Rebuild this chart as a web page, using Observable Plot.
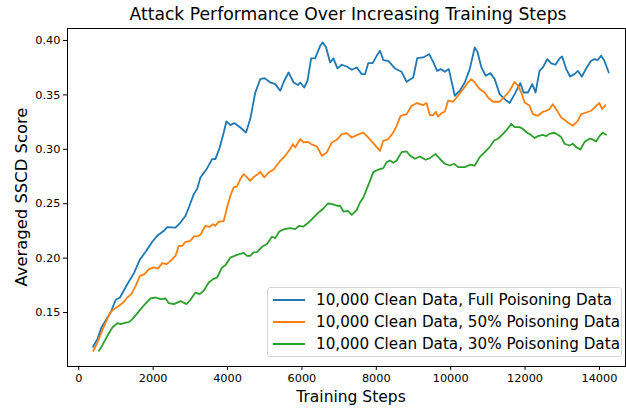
<!DOCTYPE html>
<html>
<head>
<meta charset="utf-8">
<script src="https://cdn.jsdelivr.net/npm/d3@7"></script>
<script src="https://cdn.jsdelivr.net/npm/@observablehq/plot@0.6"></script>
<style>
  body { margin: 0; background: #fff; font-family: "DejaVu Sans", sans-serif; }
  #wrap { position: relative; width: 626px; height: 410px; overflow: hidden; }
  #title { position: absolute; left: 0; width: 696px; top: 4px; text-align: center; font-size: 17.2px; color: #000; white-space: nowrap; }
  #chart { position: absolute; left: 0; top: 28px; }
  #ylab { position: absolute; left: 21px; top: 197px; transform: translate(-50%, -50%) rotate(-90deg); font-size: 16.4px; white-space: nowrap; color: #000; }
  #xlab { position: absolute; left: 351px; top: 397px; transform: translate(-50%, -50%); font-size: 15.5px; white-space: nowrap; color: #000; }
  #legend { position: absolute; left: 267px; top: 287px; width: 355px; height: 70px; border: 1px solid #d4d4d4; border-radius: 3px; background: rgba(255,255,255,0.85); box-sizing: border-box; }
  .row { position: absolute; left: 0; height: 20px; width: 100%; }
  .sw { position: absolute; left: 5px; top: 9px; width: 32px; height: 2px; }
  .lt { position: absolute; left: 48px; top: 0; font-size: 15.2px; line-height: 20px; white-space: nowrap; color: #000; }
</style>
</head>
<body>
<div id="wrap">
  <div id="title"></div>
  <div id="chart"></div>
  <div id="ylab"></div>
  <div id="xlab"></div>
  <div id="legend"></div>
</div>
<script>
const titleText = "Attack Performance Over Increasing Training Steps";
const xLabel = "Training Steps";
const yLabel = "Averaged SSCD Score";
const seriesNames = [
  "10,000 Clean Data, Full Poisoning Data",
  "10,000 Clean Data, 50% Poisoning Data",
  "10,000 Clean Data, 30% Poisoning Data"
];
const seriesColors = ["#1f77b4", "#ff7f0e", "#2ca02c"];
const xTicks = [0, 2000, 4000, 6000, 8000, 10000, 12000, 14000];
const yTicks = [0.15, 0.20, 0.25, 0.30, 0.35, 0.40];

// [training step, averaged SSCD score]
const fullPoisoning = [
  [384,0.1185],[500,0.1256],[608,0.1362],[858,0.150],[992,0.1617],[1108,0.1638],[1305,0.176],[1484,0.1862],
  [1636,0.1982],[1797,0.2058],[1976,0.215],[2127,0.2211],[2288,0.2251],[2378,0.2285],[2601,0.2281],[2735,0.2327],
  [2870,0.2389],[2958,0.2465],[3093,0.2588],[3182,0.2634],[3271,0.2741],[3450,0.2824],[3585,0.291],[3674,0.291],
  [3790,0.3017],[3897,0.3154],[3969,0.3256],[4076,0.3222],[4183,0.3241],[4344,0.320],[4497,0.3154],[4612,0.328],
  [4746,0.3522],[4880,0.3645],[4996,0.3654],[5149,0.3614],[5283,0.3599],[5417,0.3538],[5524,0.363],[5641,0.3706],
  [5775,0.3614],[5891,0.359],[5953,0.3614],[6061,0.3568],[6150,0.363],[6248,0.3835],[6355,0.3835],[6490,0.3951],
  [6561,0.3982],[6651,0.3936],[6758,0.3798],[6847,0.3835],[6955,0.3743],[7071,0.3777],[7205,0.3761],[7339,0.3731],
  [7473,0.3752],[7608,0.3691],[7697,0.3691],[7785,0.3792],[7902,0.3792],[8010,0.3859],[8099,0.3905],[8188,0.382],
  [8322,0.3813],[8501,0.3743],[8680,0.3712],[8815,0.362],[8993,0.366],[9100,0.3838],[9261,0.3844],[9421,0.3875],
  [9529,0.3804],[9636,0.3721],[9734,0.3737],[9842,0.3712],[9949,0.3737],[10110,0.3492],[10244,0.3538],[10378,0.3614],
  [10512,0.3737],[10584,0.3844],[10646,0.3936],[10718,0.3896],[10826,0.3752],[10941,0.3676],[11067,0.370],[11183,0.3645],
  [11317,0.3507],[11451,0.3461],[11585,0.3425],[11719,0.3507],[11872,0.3608],[11960,0.3522],[12076,0.3522],[12194,0.3599],
  [12282,0.3522],[12389,0.3721],[12478,0.3752],[12596,0.3829],[12703,0.3789],[12818,0.3777],[12926,0.3835],[12998,0.3853],
  [13105,0.3737],[13212,0.3669],[13328,0.3691],[13417,0.3721],[13525,0.3669],[13659,0.3752],[13776,0.3813],[13865,0.3829],
  [13953,0.382],[14044,0.3859],[14133,0.3813],[14249,0.3706]
];
const halfPoisoning = [
  [394,0.1148],[501,0.1224],[662,0.1362],[840,0.150],[947,0.1531],[1081,0.1562],[1198,0.1592],[1305,0.1638],
  [1413,0.1669],[1529,0.1745],[1644,0.1837],[1770,0.1853],[1885,0.1899],[2019,0.1914],[2127,0.1904],[2245,0.1954],
  [2360,0.1945],[2467,0.1975],[2601,0.2021],[2690,0.2113],[2781,0.2113],[2870,0.215],[3003,0.2159],[3093,0.2199],
  [3182,0.2199],[3271,0.2215],[3405,0.2297],[3521,0.2288],[3611,0.2312],[3674,0.2297],[3762,0.2334],[3897,0.234],
  [3987,0.2465],[4076,0.2573],[4165,0.265],[4255,0.266],[4344,0.2726],[4433,0.2772],[4524,0.2741],[4612,0.271],
  [4701,0.2745],[4790,0.2765],[4880,0.2793],[4988,0.2741],[5103,0.2787],[5237,0.2812],[5417,0.2894],[5551,0.294],
  [5685,0.3002],[5757,0.3048],[5819,0.3017],[5953,0.3094],[6042,0.3063],[6150,0.3069],[6248,0.3048],[6401,0.3026],
  [6490,0.2971],[6535,0.294],[6669,0.2971],[6803,0.3063],[6937,0.3087],[7071,0.314],[7205,0.3149],[7339,0.3108],
  [7473,0.313],[7651,0.3154],[7785,0.3108],[7919,0.3057],[8010,0.302],[8099,0.2986],[8188,0.3078],[8322,0.3094],
  [8456,0.3154],[8546,0.3216],[8653,0.3308],[8815,0.3323],[8949,0.340],[9100,0.3425],[9261,0.3406],[9350,0.3425],
  [9440,0.3314],[9530,0.3314],[9600,0.3345],[9662,0.3301],[9753,0.3332],[9842,0.3345],[9930,0.3446],[10064,0.3437],
  [10199,0.3492],[10333,0.3553],[10467,0.3614],[10557,0.3645],[10646,0.3614],[10780,0.3553],[10914,0.3522],[11003,0.3476],
  [11137,0.3437],[11317,0.3437],[11451,0.3485],[11585,0.3538],[11719,0.362],[11808,0.3584],[11898,0.3522],[11987,0.343],
  [12121,0.340],[12210,0.3323],[12344,0.3308],[12478,0.3345],[12568,0.3354],[12657,0.337],[12746,0.3415],[12836,0.3369],
  [12971,0.3292],[13060,0.3271],[13149,0.3246],[13283,0.3216],[13417,0.3262],[13507,0.3323],[13641,0.3338],[13776,0.3354],
  [13910,0.340],[13999,0.3425],[14071,0.337],[14159,0.3406]
];
const thirtyPoisoning = [
  [545,0.1148],[635,0.120],[769,0.1286],[903,0.1362],[1038,0.1403],[1126,0.1393],[1260,0.1408],[1350,0.1412],
  [1440,0.1439],[1555,0.1485],[1663,0.1531],[1797,0.1583],[1931,0.1629],[2065,0.1638],[2199,0.1623],[2333,0.1629],
  [2422,0.1586],[2556,0.1577],[2735,0.1605],[2896,0.1577],[3003,0.1617],[3137,0.1684],[3253,0.1669],[3360,0.170],
  [3494,0.1776],[3611,0.1807],[3719,0.1822],[3853,0.1914],[3942,0.1935],[4076,0.2005],[4255,0.203],[4433,0.2048],
  [4524,0.2021],[4612,0.2021],[4701,0.2052],[4790,0.2055],[4925,0.2104],[5060,0.2129],[5194,0.2196],[5283,0.2184],
  [5390,0.2245],[5532,0.2266],[5685,0.2276],[5819,0.2266],[5926,0.2297],[6042,0.229],[6176,0.2327],[6310,0.2373],
  [6445,0.2419],[6578,0.2456],[6696,0.2502],[6820,0.2496],[6937,0.2481],[7026,0.2481],[7115,0.2428],[7232,0.2434],
  [7339,0.2398],[7473,0.2441],[7562,0.2511],[7651,0.2557],[7741,0.2634],[7830,0.271],[7919,0.279],[8053,0.2814],
  [8188,0.2827],[8278,0.2882],[8367,0.2897],[8456,0.2876],[8546,0.2897],[8680,0.2974],[8815,0.298],[8903,0.2943],
  [9037,0.2913],[9171,0.2934],[9324,0.2904],[9440,0.2919],[9592,0.2958],[9708,0.2913],[9842,0.2867],[9976,0.2851],
  [10091,0.2867],[10199,0.2836],[10378,0.2836],[10539,0.286],[10646,0.2851],[10780,0.2928],[10914,0.2974],[11048,0.302],
  [11164,0.3081],[11272,0.3097],[11406,0.3142],[11496,0.3173],[11630,0.3234],[11719,0.3204],[11853,0.3204],[11942,0.3188],
  [12032,0.3158],[12148,0.3133],[12255,0.3103],[12344,0.3121],[12478,0.3133],[12567,0.3121],[12657,0.3142],[12790,0.3152],
  [12880,0.3133],[12971,0.3112],[13060,0.3051],[13194,0.3035],[13283,0.3051],[13373,0.302],[13489,0.2998],[13596,0.3066],
  [13730,0.3097],[13819,0.309],[13910,0.3072],[13999,0.3121],[14088,0.3152],[14177,0.3133]
];

const allSeries = [fullPoisoning, halfPoisoning, thirtyPoisoning];
const rows = allSeries.flatMap((s, i) => s.map(([step, score]) => ({step, score, series: seriesNames[i]})));

const chart = Plot.plot({
  width: 626,
  height: 382,
  marginLeft: 67,
  marginRight: 1,
  marginTop: 0,
  marginBottom: 44,
  style: {fontFamily: "DejaVu Sans, sans-serif", fontSize: "11.3px", color: "#000", background: "transparent"},
  x: {domain: [-303, 14700]},
  y: {domain: [0.1004, 0.411]},
  color: {domain: seriesNames, range: seriesColors},
  marks: [
    Plot.line(rows, {x: "step", y: "score", z: "series", stroke: "series", strokeWidth: 1.8}),
    Plot.frame({stroke: "#000", strokeWidth: 1}),
    Plot.axisX({ticks: xTicks, tickFormat: d3.format("d"), tickSize: 4, tickPadding: 3, label: null, fontSize: 11.3}),
    Plot.axisY({ticks: yTicks, tickFormat: d3.format(".2f"), tickSize: 4, tickPadding: 3, label: null, fontSize: 11.3})
  ]
});
document.getElementById("chart").appendChild(chart);
document.getElementById("title").textContent = titleText;
document.getElementById("xlab").textContent = xLabel;
document.getElementById("ylab").textContent = yLabel;

const legend = document.getElementById("legend");
seriesNames.forEach((name, i) => {
  const row = document.createElement("div");
  row.className = "row";
  row.style.top = (2 + i * 22) + "px";
  const sw = document.createElement("div");
  sw.className = "sw";
  sw.style.background = seriesColors[i];
  const lt = document.createElement("div");
  lt.className = "lt";
  lt.textContent = name;
  row.appendChild(sw);
  row.appendChild(lt);
  legend.appendChild(row);
});
</script>
</body>
</html>
